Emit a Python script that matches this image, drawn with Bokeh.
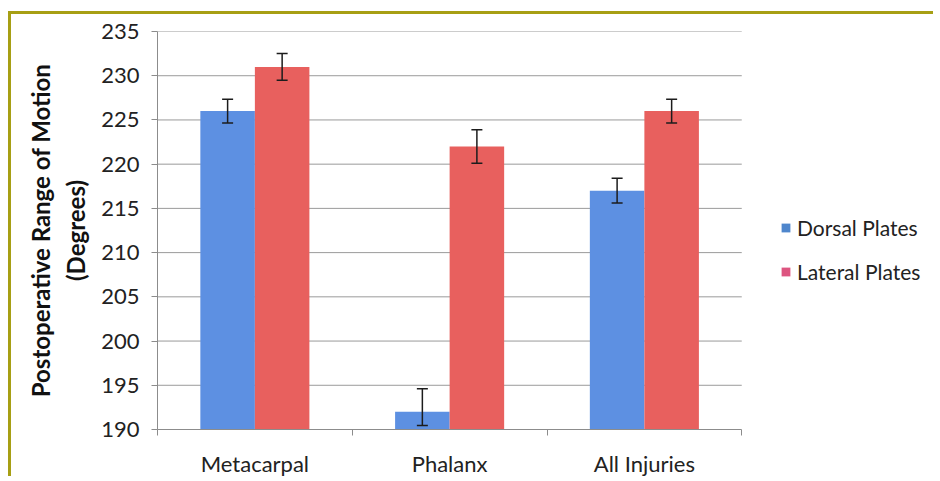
from bokeh.plotting import figure
from bokeh.models import (ColumnDataSource, Range1d, FixedTicker, Whisker, TeeHead,
                          Legend, LegendItem)
from bokeh.embed import file_html
from bokeh.resources import INLINE

categories = ["Metacarpal", "Phalanx", "All Injuries"]
dorsal = [226, 192, 217]
dorsal_err_up = [1.35, 2.6, 1.4]
dorsal_err_down = [1.35, 1.55, 1.4]
lateral = [231, 222, 226]
lateral_err_up = [1.5, 1.9, 1.35]
lateral_err_down = [1.5, 1.9, 1.35]
y_ticks = [190, 195, 200, 205, 210, 215, 220, 225, 230, 235]

FONT = "Lato"
xs = [i + 1 for i in range(len(categories))]
x_lo, x_hi = 0.5, len(categories) + 0.5
offset = 0.14
bar_w = 0.28

src_d = ColumnDataSource(dict(
    x=[x - offset for x in xs], top=dorsal,
    upper=[v + e for v, e in zip(dorsal, dorsal_err_up)],
    lower=[v - e for v, e in zip(dorsal, dorsal_err_down)]))
src_l = ColumnDataSource(dict(
    x=[x + offset for x in xs], top=lateral,
    upper=[v + e for v, e in zip(lateral, lateral_err_up)],
    lower=[v - e for v, e in zip(lateral, lateral_err_down)]))

# frame extends to the right so the legend fits inside it
p = figure(width=925, height=465, output_backend="svg", toolbar_location=None,
           x_range=Range1d(x_lo, x_hi + 1.0), y_range=Range1d(190, 235),
           min_border_left=146, min_border_right=0, min_border_top=17,
           min_border_bottom=35)
p.styles = {"border-left": "3px solid #a79f14", "border-top": "3px solid #a79f14",
            "margin-top": "11px", "margin-left": "8px"}
p.outline_line_color = None
p.background_fill_color = "white"
p.border_fill_color = "white"

# horizontal grid lines limited to the category area
grid_src = ColumnDataSource(dict(y=y_ticks[1:]))
p.segment(x0=x_lo, x1=x_hi, y0="y", y1="y", source=grid_src,
          line_color="#9a9a9a", line_width=1)

p.vbar(x="x", top="top", bottom=190, width=bar_w, source=src_d,
       fill_color="#5d90e2", line_color=None)
p.vbar(x="x", top="top", bottom=190, width=bar_w, source=src_l,
       fill_color="#e8605e", line_color=None)

for src in (src_d, src_l):
    w = Whisker(base="x", upper="upper", lower="lower", source=src, level="overlay",
                line_color="#1c1c1c", line_width=1.5,
                upper_head=TeeHead(size=11, line_color="#1c1c1c", line_width=1.5),
                lower_head=TeeHead(size=11, line_color="#1c1c1c", line_width=1.5))
    p.add_layout(w)

# y axis
p.yaxis.ticker = FixedTicker(ticks=y_ticks)
p.yaxis.axis_line_color = "#8c8c8c"
p.yaxis.major_tick_line_color = "#8c8c8c"
p.yaxis.major_tick_out = 6
p.yaxis.major_tick_in = 0
p.yaxis.minor_tick_line_color = None
p.yaxis.major_label_text_font = FONT
p.yaxis.major_label_text_font_size = "22px"
p.yaxis.major_label_text_color = "#222222"
p.yaxis.major_label_standoff = 12
p.yaxis.axis_label = "Postoperative Range of Motion\n(Degrees)"
p.yaxis.axis_label_text_font = FONT
p.yaxis.axis_label_text_font_style = "bold"
p.yaxis.axis_label_text_font_size = "24px"
p.yaxis.axis_label_text_color = "#111111"
p.yaxis.axis_label_standoff = 8

# x axis
p.xaxis.ticker = FixedTicker(ticks=xs,
                             minor_ticks=[x - 0.5 for x in xs] + [xs[-1] + 0.5])
p.xaxis.bounds = (x_lo, x_hi)
p.xaxis.major_label_overrides = {x: c for x, c in zip(xs, categories)}
p.xaxis.axis_line_color = "#8c8c8c"
p.xaxis.major_tick_line_color = None
p.xaxis.minor_tick_line_color = "#8c8c8c"
p.xaxis.minor_tick_out = 6
p.xaxis.minor_tick_in = 0
p.xaxis.major_label_text_font = FONT
p.xaxis.major_label_text_font_size = "22px"
p.xaxis.major_label_text_color = "#222222"
p.xaxis.major_label_standoff = 14

p.xgrid.grid_line_color = None
p.ygrid.grid_line_color = None

# legend (swatches only, no data drawn)
nan = float("nan")
r_d = p.vbar(x=[nan], top=[nan], width=0.1, fill_color="#4f86cc", line_color=None)
r_l = p.vbar(x=[nan], top=[nan], width=0.1, fill_color="#dd5580", line_color=None)
legend = Legend(items=[LegendItem(label="Dorsal Plates", renderers=[r_d]),
                       LegendItem(label="Lateral Plates", renderers=[r_l])],
                location=(623, 145), border_line_color=None,
                background_fill_alpha=0, label_text_font=FONT,
                label_text_font_size="21px", label_text_color="#222222",
                spacing=19, glyph_width=11, glyph_height=11, label_standoff=6,
                margin=0, padding=0)
p.add_layout(legend, "center")

open("out.html", "w").write(file_html(p, INLINE))
